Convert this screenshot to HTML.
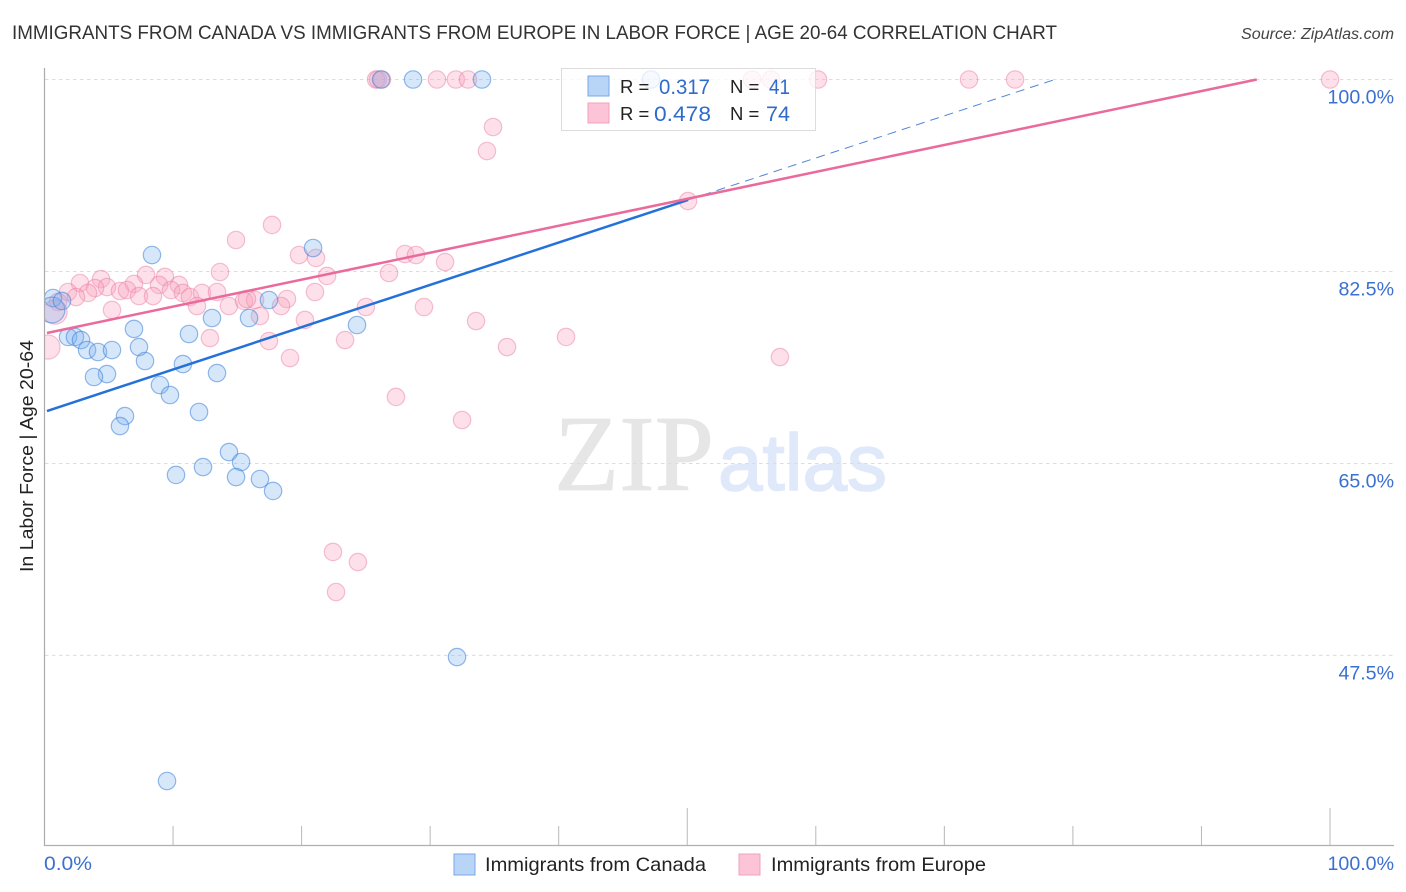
<!DOCTYPE html>
<html lang="en">
<head>
<meta charset="utf-8">
<title>Immigrants from Canada vs Immigrants from Europe</title>
<style>
html,body{margin:0;padding:0;background:#fff;}
svg{display:block;font-family:"Liberation Sans",sans-serif;}
</style>
</head>
<body>
<svg id="chart" xmlns="http://www.w3.org/2000/svg" width="1406" height="892" viewBox="0 0 1406 892">
  <defs><clipPath id="plot-clip"><rect x="45" y="60" width="1350" height="785"/></clipPath></defs>
  <rect x="0" y="0" width="1406" height="892" fill="#fff"/>
  <text x="12" y="39" font-size="19.5" fill="#333" textLength="1045" lengthAdjust="spacingAndGlyphs">IMMIGRANTS FROM CANADA VS IMMIGRANTS FROM EUROPE IN LABOR FORCE | AGE 20-64 CORRELATION CHART</text>
  <text x="1241" y="39" font-size="15.5" font-style="italic" fill="#444" textLength="153" lengthAdjust="spacingAndGlyphs">Source: ZipAtlas.com</text>
  <g id="watermark">
    <text x="554" y="490" font-family="'Liberation Serif',serif" font-size="108" fill="#e6e6e6" stroke="#e6e6e6" stroke-width="0.8" textLength="160" lengthAdjust="spacingAndGlyphs">ZIP</text>
    <text x="718" y="490" font-family="'Liberation Sans',sans-serif" font-size="80" fill="#dfe9fa" stroke="#dfe9fa" stroke-width="1.6">atlas</text>
  </g>
  <g id="grid"></g>
  <g id="axes"></g>
  <g id="points" clip-path="url(#plot-clip)"></g>
  <g id="trends"></g>
  <text transform="translate(33,456) rotate(-90)" font-size="18.5" fill="#222" text-anchor="middle" textLength="232" lengthAdjust="spacingAndGlyphs">In Labor Force | Age 20-64</text>
  <g>
    <rect x="561.5" y="68.5" width="254" height="62" fill="#fff" fill-opacity="0.76" stroke="#dcdcdc"/>
    <rect x="588" y="76" width="21" height="20" fill="#b8d5f8" stroke="#77a8e6" stroke-width="1"/>
    <rect x="588" y="103" width="21" height="20" fill="#fcc4d6" stroke="#f0a0bc" stroke-width="1"/>
    <text x="620" y="93" font-size="18.5" fill="#222">R =</text>
    <text x="659" y="94" font-size="21.5" fill="#2f6bcb" textLength="51" lengthAdjust="spacingAndGlyphs">0.317</text>
    <text x="730" y="93" font-size="18.5" fill="#222">N =</text>
    <text x="769" y="94" font-size="21.5" fill="#2f6bcb" textLength="21" lengthAdjust="spacingAndGlyphs">41</text>
    <text x="620" y="120" font-size="18.5" fill="#222">R =</text>
    <text x="654" y="121" font-size="21.5" fill="#2f6bcb" textLength="57" lengthAdjust="spacingAndGlyphs">0.478</text>
    <text x="730" y="120" font-size="18.5" fill="#222">N =</text>
    <text x="766" y="121" font-size="21.5" fill="#2f6bcb" textLength="24" lengthAdjust="spacingAndGlyphs">74</text>
  </g>
  <g>
    <rect x="454" y="854" width="21" height="21" fill="#b8d5f8" stroke="#77a8e6"/>
    <text x="485" y="871" font-size="19.5" fill="#222" textLength="221" lengthAdjust="spacingAndGlyphs">Immigrants from Canada</text>
    <rect x="739" y="854" width="21" height="21" fill="#fcc4d6" stroke="#f0a0bc"/>
    <text x="771" y="871" font-size="19.5" fill="#222" textLength="215" lengthAdjust="spacingAndGlyphs">Immigrants from Europe</text>
  </g>
</svg>
<script>
const yTickValues = [100, 82.5, 65, 47.5];
const yTickLabels = ["100.0%", "82.5%", "65.0%", "47.5%"];
const xTickValues = [10, 20, 30, 40, 50, 60, 70, 80, 90, 100];
const xMajorTicks = [50, 100];
const xEndLabels = ["0.0%", "100.0%"];

const canadaX = [0.66,0.58,1.36,1.83,2.37,2.84,3.31,4.16,5.25,6.96,7.35,7.82,11.24,13.03,15.91,17.46,10.77,13.42,4.86,3.85,8.98,9.76,12.02,6.26,5.87,8.36,20.89,24.31,14.35,15.29,12.33,10.23,14.90,16.76,17.78,32.09,9.53,26.18,28.67,34.03,47.18];
const canadaY = [80.08,78.99,79.81,76.53,76.53,76.25,75.34,75.16,75.34,77.26,75.61,74.34,76.80,78.26,78.26,79.90,74.06,73.24,73.15,72.88,72.15,71.24,69.69,69.32,68.41,84.0,84.64,77.62,66.04,65.13,64.67,63.95,63.76,63.58,62.49,47.35,36.05,100,100,100,100];
const canadaWeight = [1,3,1,1,1,1,1,1,1,1,1,1,1,1,1,1,1,1,1,1,1,1,1,1,1,1,1,1,1,1,1,1,1,1,1,1,1,1,1,1,1];

const europeX = [14.90,19.80,21.12,21.98,13.65,7.90,9.37,4.40,2.76,6.96,4.86,8.91,10.46,1.83,3.93,3.38,2.45,5.87,6.42,7.35,8.44,9.84,10.77,11.32,12.25,13.42,11.86,14.35,15.52,16.38,15.75,18.86,18.40,21.04,16.76,20.26,5.25,12.87,23.38,17.46,19.10,0.27,1.05,0.82,25.79,25.94,26.25,30.53,32.0,32.94,55.04,56.51,60.17,71.92,75.50,100,34.89,34.42,50.06,17.70,28.04,28.90,31.16,26.80,25.0,29.52,33.57,40.57,35.98,57.21,27.34,32.48,22.44,24.38,22.68];
const europeY = [85.37,84.0,83.73,82.09,82.45,82.18,82.0,81.81,81.45,81.36,81.08,81.27,81.27,80.63,80.99,80.54,80.17,80.72,80.81,80.26,80.26,80.81,80.54,80.17,80.54,80.63,79.35,79.35,79.81,79.90,79.99,79.99,79.35,80.63,78.44,78.08,78.99,76.43,76.25,76.16,74.61,75.61,79.72,78.80,100,100,100,100,100,100,100,100,100,100,100,100,95.67,93.48,88.92,86.74,84.09,84.0,83.36,82.36,79.26,79.26,77.98,76.53,75.61,74.70,71.06,68.96,56.93,56.01,53.28];
const europeWeight = [1,1,1,1,1,1,1,1,1,1,1,1,1,1,1,1,1,1,1,1,1,1,1,1,1,1,1,1,1,1,1,1,1,1,1,1,1,1,1,1,1,2.5,1,2.5,1,1,1,1,1,1,1,1,1,1,1,1,1,1,1,1,1,1,1,1,1,1,1,1,1,1,1,1,1,1,1];

const canadaTrendX = [0.19, 50.06];
const canadaTrendY = [69.78, 89.02];
const canadaDashedX = [50.06, 78.6];
const canadaDashedY = [89.02, 100];
const europeTrendX = [0.19, 94.3];
const europeTrendY = [76.89, 100];

function xScale(v) { return 44.5 + v * 12.855; }
function yScale(v) { return 79.5 + (100 - v) * 10.97; }
function radius(w) { return 8.7 * Math.pow(w, 0.36); }
function make(tag, attrs) {
  const el = document.createElementNS('http://www.w3.org/2000/svg', tag);
  for (const k in attrs) el.setAttribute(k, attrs[k]);
  return el;
}
const gridG = document.getElementById('grid');
const axesG = document.getElementById('axes');
const pointsG = document.getElementById('points');
const trendsG = document.getElementById('trends');

yTickValues.forEach(function (v, i) {
  const line = make('line', {x1: 45, x2: 1394, y1: yScale(v), y2: yScale(v), stroke: '#dcdcdc', 'stroke-width': 1, 'stroke-dasharray': '3.5 3.5'});
  
  
  gridG.appendChild(line);
  const label = make('text', {x: 1394, y: yScale(v) + 24, 'font-size': 19.6, fill: '#3b70d0', 'text-anchor': 'end'});
  label.textContent = yTickLabels[i];
  
  
  axesG.appendChild(label);
});

const yAxis = make('line', {x1: 44.5, x2: 44.5, y1: 68, y2: 846, stroke: '#ababab', 'stroke-width': 1.2});


axesG.appendChild(yAxis);
const xAxis = make('line', {x1: 44, x2: 1394, y1: 845.5, y2: 845.5, stroke: '#b0b0b0', 'stroke-width': 1.2});


axesG.appendChild(xAxis);

xTickValues.forEach(function (v) {
  const major = xMajorTicks.indexOf(v) >= 0;
  const tick = make('line', {x1: xScale(v), x2: xScale(v), y1: major ? 808 : 826, y2: 845, stroke: '#b8b8b8', 'stroke-width': 1});
  
  
  axesG.appendChild(tick);
});

const xLabelLeft = make('text', {x: 44, y: 870, 'font-size': 19.6, fill: '#3b70d0', textLength: 48, lengthAdjust: 'spacingAndGlyphs'});
xLabelLeft.textContent = xEndLabels[0];


axesG.appendChild(xLabelLeft);
const xLabelRight = make('text', {x: 1394, y: 870, 'font-size': 19.6, fill: '#3b70d0', 'text-anchor': 'end'});
xLabelRight.textContent = xEndLabels[1];


axesG.appendChild(xLabelRight);

europeX.forEach(function (v, i) {
  const c = make('circle', {cx: xScale(v), cy: yScale(europeY[i]), r: radius(europeWeight[i]), fill: '#f8a4be', 'fill-opacity': 0.34, stroke: '#e9789f', 'stroke-opacity': 0.45, 'stroke-width': 1.2});
  
  
  pointsG.appendChild(c);
});
canadaX.forEach(function (v, i) {
  const c = make('circle', {cx: xScale(v), cy: yScale(canadaY[i]), r: radius(canadaWeight[i]), fill: '#79aeee', 'fill-opacity': 0.3, stroke: '#3c82d8', 'stroke-opacity': 0.55, 'stroke-width': 1.2});
  
  
  pointsG.appendChild(c);
});

const dashed = make('line', {x1: xScale(canadaDashedX[0]), y1: yScale(canadaDashedY[0]), x2: xScale(canadaDashedX[1]), y2: yScale(canadaDashedY[1]), stroke: '#4f86d8', 'stroke-width': 1, 'stroke-dasharray': '9 6'});


trendsG.appendChild(dashed);
const canadaLine = make('line', {x1: xScale(canadaTrendX[0]), y1: yScale(canadaTrendY[0]), x2: xScale(canadaTrendX[1]), y2: yScale(canadaTrendY[1]), stroke: '#2471d9', 'stroke-width': 2.5});


trendsG.appendChild(canadaLine);
const europeLine = make('line', {x1: xScale(europeTrendX[0]), y1: yScale(europeTrendY[0]), x2: xScale(europeTrendX[1]), y2: yScale(europeTrendY[1]), stroke: '#ea6a9b', 'stroke-width': 2.5});


trendsG.appendChild(europeLine);
</script>
</body>
</html>
